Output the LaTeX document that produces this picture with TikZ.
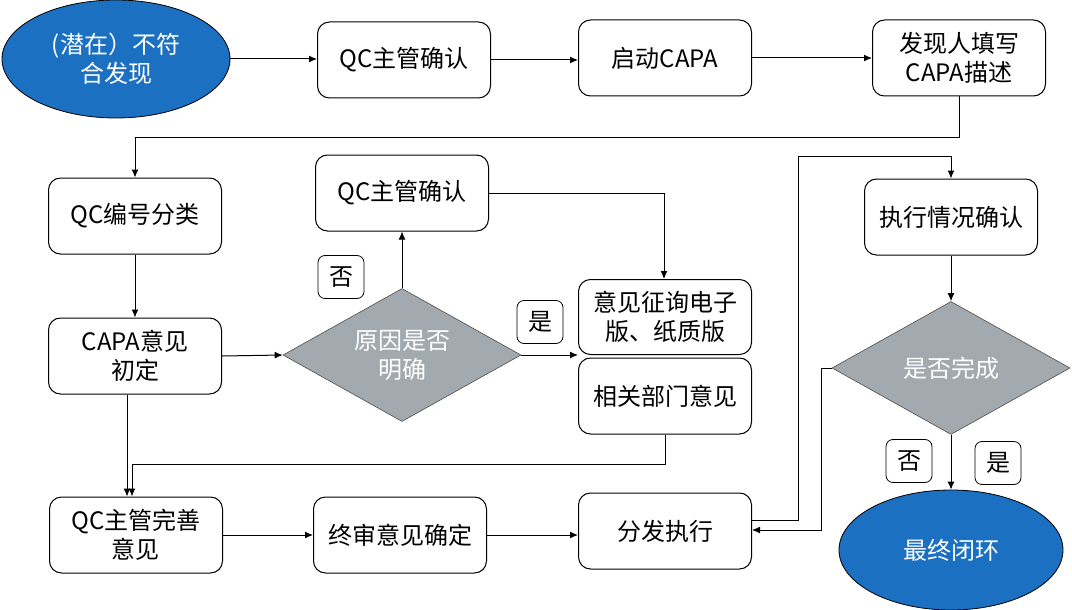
\documentclass[tikz,border=0pt]{standalone}
\usepackage{fontspec}
\setmainfont{Noto Sans CJK SC}
\usetikzlibrary{shapes.geometric,arrows.meta}
\definecolor{eblue}{RGB}{28,112,193}
\definecolor{dgray}{RGB}{162,170,176}
\begin{document}
\begin{tikzpicture}[x=1pt,y=-1pt,
  every node/.style={font=\fontsize{24}{29}\selectfont},
  box/.style={draw=black,line width=1pt,rounded corners=12pt,minimum width=173pt,minimum height=76pt,align=center,fill=white,inner sep=2pt},
  oval/.style={ellipse,draw=black,line width=0.8pt,fill=eblue,text=white,align=center,inner sep=0pt},
  dia/.style={diamond,draw=black!70,line width=0.6pt,fill=dgray,text=white,align=center,inner sep=0pt,minimum width=238pt,minimum height=133pt,aspect=1.79},
  lab/.style={draw=black,line width=0.8pt,rounded corners=7pt,minimum width=46pt,minimum height=43pt,inner sep=0pt},
  arr/.style={draw=black,line width=1pt,-{Latex[length=8pt,width=7pt]}}]
\useasboundingbox (0,0) rectangle (1072,610);
% nodes
\node[oval,minimum width=228pt,minimum height=118pt] (e1) at (116,59) {(潜在）不符\\合发现};
\node[box] (qc1) at (404,60) {QC主管确认};
\node[box] (qd) at (665,58) {启动CAPA};
\node[box] (fx) at (959,58) {发现人填写\\CAPA描述};
\node[box] (bh) at (135,216) {QC编号分类};
\node[box] (cp) at (135,356) {CAPA意见\\初定};
\node[dia] (d1) at (402,355) {原因是否\\明确};
\node[box] (qc2) at (402,193) {QC主管确认};
\node[box,minimum height=75pt] (yj) at (665,317) {意见征询电子\\版、纸质版};
\node[box] (xg) at (665,396) {相关部门意见};
\node[box] (wq) at (136,535) {QC主管完善\\意见};
\node[box] (zs) at (400,535) {终审意见确定};
\node[box] (ff) at (665,531) {分发执行};
\node[box] (zx) at (951,217) {执行情况确认};
\node[dia] (d2) at (951,368) {是否完成};
\node[oval,minimum width=224pt,minimum height=120pt] (e2) at (951,550) {最终闭环};
\node[lab] (l1) at (341,277) {否};
\node[lab] (l2) at (540,322) {是};
\node[lab] (l3) at (909,461) {否};
\node[lab] (l4) at (998,463) {是};
% connectors
\draw[arr] (e1.east) -- (e1.east -| qc1.west);
\draw[arr] (qc1.east) -- (qc1.east -| qd.west);
\draw[arr] (qd.east) -- (fx.west);
\draw[arr] (fx.south) -- ++(0,41) -| (bh.north);
\draw[arr] (bh.south) -- (cp.north);
\draw[arr] (cp.east) -- (d1.west);
\draw[arr] (d1.north) -- (qc2.south);
\draw[arr] (qc2.east) -| ([xshift=-1pt]yj.north);
\draw[arr] (d1.east) -- (d1.east -| yj.west);
\draw[arr] ([xshift=-8pt]cp.south) -- ([xshift=-8pt]cp.south |- wq.north);
\draw[arr] (xg.south) -- ++(0,30) -| ([xshift=-4pt]wq.north);
\draw[arr] (wq.east) -- (zs.west);
\draw[arr] (zs.east) -- (zs.east -| ff.west);
\draw[arr] ([yshift=11pt]ff.east) -- ++(46,0) |- ([yshift=22pt]zx.north) -- (zx.north);
\draw[arr] (zx.south) -- (d2.north);
\draw[arr] (d2.west) -- ++(-10,0) |- ([yshift=1pt]ff.east);
\draw[arr] (d2.south) -- (e2.north);
\end{tikzpicture}
\end{document}
